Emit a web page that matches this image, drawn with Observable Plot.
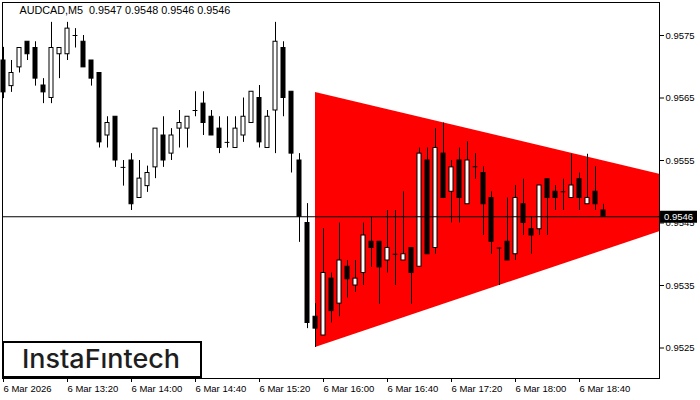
<!DOCTYPE html>
<html>
<head>
<meta charset="utf-8">
<script src="https://cdn.jsdelivr.net/npm/d3@7"></script>
<script src="https://cdn.jsdelivr.net/npm/@observablehq/plot@0.6"></script>
<style>
  html, body { margin: 0; padding: 0; background: #fff; }
  #chart svg { display: block; }
</style>
</head>
<body>
<div id="chart"></div>
<script>
// ---- data (AUDCAD M5, bars from 6 Mar 12:40) ----
const titleText = "AUDCAD,M5  0.9547 0.9548 0.9546 0.9546";
const logoText = "InstaF\u0131ntech";

const open = [0.95710,0.95669,0.95699,0.95740,0.95730,0.95670,0.95650,0.95720,0.95720,0.95750,
 0.95740,0.95710,0.95690,0.95590,0.95620,0.95539,0.95550,0.95490,0.95509,0.95539,
 0.95590,0.95561,0.95601,0.95601,0.95630,0.95641,0.95620,0.95601,0.95579,0.95570,
 0.95590,0.95610,0.95650,0.95570,0.95630,0.95730,0.95660,0.95550,0.95450,0.95300,
 0.95270,0.95361,0.95321,0.95380,0.95350,0.95370,0.95420,0.95420,0.95390,0.95400,
 0.95390,0.95410,0.95380,0.95550,0.95410,0.95561,0.95500,0.95550,0.95480,0.95540,
 0.95530,0.95490,0.95410,0.95420,0.95400,0.95480,0.95440,0.95440,0.95520,0.95500,
 0.95500,0.95490,0.95520,0.95480,0.95500,0.95470];

const high = [0.95731,0.95710,0.95730,0.95740,0.95740,0.95681,0.95771,0.95730,0.95771,0.95761,
 0.95750,0.95710,0.95690,0.95620,0.95620,0.95550,0.95561,0.95550,0.95541,0.95601,
 0.95620,0.95601,0.95630,0.95620,0.95660,0.95660,0.95630,0.95620,0.95620,0.95620,
 0.95650,0.95660,0.95670,0.95630,0.95771,0.95740,0.95660,0.95561,0.95481,0.95321,
 0.95441,0.95370,0.95450,0.95390,0.95390,0.95450,0.95459,0.95420,0.95470,0.95470,
 0.95500,0.95410,0.95570,0.95570,0.95601,0.95610,0.95550,0.95570,0.95580,0.95561,
 0.95540,0.95500,0.95410,0.95490,0.95510,0.95520,0.95460,0.95510,0.95520,0.95510,
 0.95520,0.95560,0.95530,0.95560,0.95540,0.95480];

const low = [0.95649,0.95659,0.95690,0.95710,0.95669,0.95641,0.95641,0.95681,0.95710,0.95730,
 0.95699,0.95669,0.95570,0.95570,0.95539,0.95509,0.95470,0.95490,0.95499,0.95521,
 0.95539,0.95550,0.95570,0.95570,0.95620,0.95590,0.95590,0.95561,0.95570,0.95570,
 0.95579,0.95610,0.95570,0.95570,0.95561,0.95620,0.95530,0.95419,0.95281,0.95251,
 0.95270,0.95290,0.95300,0.95330,0.95339,0.95350,0.95379,0.95320,0.95370,0.95350,
 0.95390,0.95320,0.95380,0.95400,0.95400,0.95490,0.95450,0.95450,0.95480,0.95520,
 0.95430,0.95400,0.95350,0.95390,0.95390,0.95430,0.95400,0.95430,0.95430,0.95470,
 0.95470,0.95490,0.95470,0.95480,0.95470,0.95460];

const close = [0.95659,0.95690,0.95730,0.95720,0.95681,0.95659,0.95730,0.95730,0.95761,0.95750,
 0.95699,0.95681,0.95579,0.95610,0.95550,0.95539,0.95480,0.95521,0.95530,0.95601,
 0.95550,0.95590,0.95610,0.95620,0.95630,0.95610,0.95590,0.95570,0.95579,0.95601,
 0.95620,0.95660,0.95579,0.95620,0.95740,0.95650,0.95561,0.95460,0.95290,0.95281,
 0.95370,0.95309,0.95390,0.95360,0.95361,0.95430,0.95410,0.95379,0.95410,0.95400,
 0.95400,0.95370,0.95561,0.95400,0.95570,0.95490,0.95539,0.95490,0.95550,0.95540,
 0.95480,0.95420,0.95410,0.95390,0.95490,0.95450,0.95430,0.95510,0.95490,0.95490,
 0.95500,0.95510,0.95490,0.95490,0.95480,0.95460];

const lastPrice = 0.9546;

// symmetrical triangle pattern (bar index, lower edge, upper edge)
const triBars = [39, 82];
const triLower = [0.95251, 0.95436];
const triUpper = [0.95659, 0.95528];

const xTickBars = [0, 8, 16, 24, 32, 40, 48, 56, 64, 72];
const xTickLabels = ["6 Mar 2026", "6 Mar 13:20", "6 Mar 14:00", "6 Mar 14:40", "6 Mar 15:20",
  "6 Mar 16:00", "6 Mar 16:40", "6 Mar 17:20", "6 Mar 18:00", "6 Mar 18:40"];
const yTicks = [0.9525, 0.9535, 0.9545, 0.9555, 0.9565, 0.9575];

// ---- tables ----
const candles = open.map((o, i) => ({i, o, h: high[i], l: low[i], c: close[i]}));
const tri = triBars.map((x, k) => ({x, lo: triLower[k], hi: triUpper[k]}));

const fontFamily = "'Liberation Sans', Arial, sans-serif";

const chart = Plot.plot({
  width: 700,
  height: 400,
  marginLeft: 2,
  marginRight: 41,
  marginTop: 2,
  marginBottom: 22,
  style: {fontFamily, fontSize: "9.5px", color: "black", background: "white", overflow: "visible"},
  x: {type: "linear", domain: [-0.125, 82]},
  y: {type: "linear", domain: [0.952012, 0.958028]},
  marks: [
    Plot.areaY(tri, {x: "x", y1: "lo", y2: "hi", fill: "#ff0000"}),
    Plot.ruleX(candles, {x: "i", y1: "l", y2: "h", stroke: "black", strokeWidth: 1}),
    Plot.rect(candles.filter(d => d.o !== d.c), {
      x1: d => d.i - 0.25, x2: d => d.i + 0.25, y1: "o", y2: "c",
      fill: d => d.c > d.o ? "white" : "black", stroke: "black", strokeWidth: 1
    }),
    Plot.ruleY(candles.filter(d => d.o === d.c), {
      x1: d => d.i - 0.3, x2: d => d.i + 0.3, y: "o", stroke: "black"
    }),
    Plot.ruleY([lastPrice], {stroke: "black", strokeWidth: 1}),
    Plot.frame({stroke: "black"}),
    Plot.text([titleText], {frameAnchor: "top-left", dx: 17, dy: 3.5, lineAnchor: "top",
      textAnchor: "start", fontSize: 10.8, fill: "black"}),
    Plot.axisY({anchor: "right", ticks: yTicks, tickFormat: d3.format(".4f"),
      tickSize: 4, tickPadding: 2, label: null}),
    Plot.axisX({anchor: "bottom", ticks: xTickBars,
      tickFormat: d => xTickLabels[xTickBars.indexOf(d)],
      tickSize: 4, tickPadding: 3, textAnchor: "start", label: null})
  ]
});

document.getElementById("chart").appendChild(chart);

// current price label on the right axis
const svg = d3.select(chart);
const yPx = chart.scale("y").apply(lastPrice);
const xR = chart.scale("x").apply(82);
svg.append("rect").attr("x", xR + 1).attr("y", yPx - 5.5).attr("width", 37).attr("height", 12)
  .attr("fill", "black");
svg.append("text").attr("x", xR + 5).attr("y", yPx + 0.5).attr("dy", "0.35em")
  .attr("text-anchor", "start")
  .attr("fill", "white").attr("font-size", 9.5).attr("font-family", fontFamily)
  .text(lastPrice.toFixed(4));

// logo box
const x0 = chart.scale("x").apply(-0.125);
const yB = chart.scale("y").apply(0.952012);
const g = svg.append("g").attr("text-anchor", "start");
g.append("rect").attr("x", x0 + 1).attr("y", yB - 36).attr("width", 198).attr("height", 35)
  .attr("fill", "white").attr("stroke", "black").attr("stroke-width", 2);
g.append("text").attr("x", x0 + 20).attr("y", yB - 10)
  .attr("text-anchor", "start")
  .attr("font-family", "Inter, 'Noto Sans', sans-serif").attr("font-weight", 500)
  .attr("font-size", 26).attr("fill", "#1e1e1e")
  .attr("textLength", 158).attr("lengthAdjust", "spacingAndGlyphs")
  .text(logoText);
</script>
</body>
</html>
